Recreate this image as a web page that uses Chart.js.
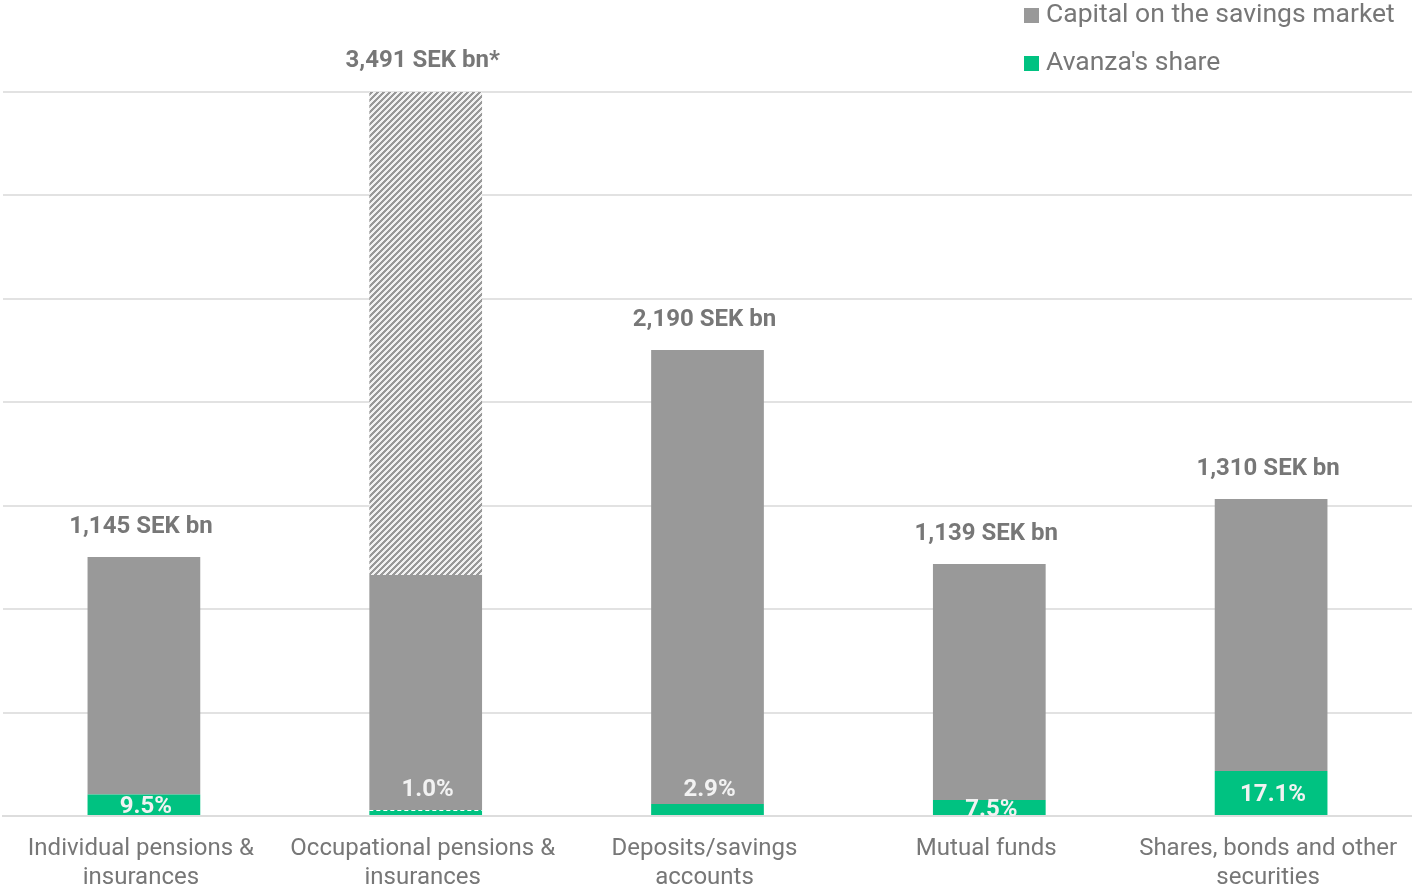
<!DOCTYPE html>
<html>
<head>
<meta charset="utf-8">
<script src="https://cdn.jsdelivr.net/npm/chart.js@4/dist/chart.umd.min.js"></script>
<style>
  html, body { margin: 0; padding: 0; background: #fff; overflow: hidden; }
  #wrap { position: relative; width: 1412px; height: 894px; }
</style>
</head>
<body>
<div id="wrap"><canvas id="savings"></canvas></div>
<script>
// categories and values (SEK bn)
var categories = [
  ["Individual pensions &", "insurances"],
  ["Occupational pensions &", "insurances"],
  ["Deposits/savings", "accounts"],
  ["Mutual funds"],
  ["Shares, bonds and other", "securities"]
];
var avanzaShare = [104, 29, 58, 77, 217];          // green segment
var capitalMarket = [1148, 1136, 2195, 1141, 1315]; // solid grey segment
var capitalHidden = [0, 2340, 0, 0, 0];            // hatched part of the occupational bar
var totalLabels = ["1,145 SEK bn", "3,491 SEK bn*", "2,190 SEK bn", "1,139 SEK bn", "1,310 SEK bn"];
var shareLabels = ["9.5%", "1.0%", "2.9%", "7.5%", "17.1%"];
var yTicks = [0, 500, 1000, 1500, 2000, 2500, 3000, 3500];

var GREY = "#999999", GREEN = "#00c281", TEXT = "#777777";

// diagonal stripe pattern for the hatched part
function makeHatch() {
  var c = document.createElement("canvas");
  c.width = 6; c.height = 6;
  var g = c.getContext("2d");
  var img = g.createImageData(6, 6);
  for (var y = 0; y < 6; y++) {
    for (var x = 0; x < 6; x++) {
      var k = (y * 6 + x) * 4;
      var on = ((x + y) % 6) < 3;
      var v = on ? 0x99 : 0xf2;
      img.data[k] = v; img.data[k + 1] = v; img.data[k + 2] = v; img.data[k + 3] = 255;
    }
  }
  g.putImageData(img, 0, 0);
  return g.createPattern(c, "repeat");
}

var labelPlugin = {
  id: "barLabels",
  afterDatasetsDraw: function (chart) {
    var ctx = chart.ctx, area = chart.chartArea;
    var green = chart.getDatasetMeta(0).data;
    var grey = chart.getDatasetMeta(1).data;
    var hatch = chart.getDatasetMeta(2).data;
    ctx.save();
    ctx.textAlign = "center";
    ctx.textBaseline = "middle";
    for (var i = 0; i < categories.length; i++) {
      var top = capitalHidden[i] > 0 ? hatch[i].y : grey[i].y;
      ctx.font = "bold 24px Roboto";
      ctx.fillStyle = TEXT;
      ctx.fillText(totalLabels[i], grey[i].x - 3, top - 30);

      var g = green[i];
      var h = g.base - g.y;
      // small share: label sits above the green part
      var ty = h >= 14 ? (g.y + g.base) / 2 + 2 : g.base - 25;
      if (capitalHidden[i] > 0) {
        ctx.save();
        ctx.strokeStyle = "#ffffff";
        ctx.lineWidth = 1;
        ctx.setLineDash([4, 3]);
        ctx.beginPath();
        ctx.moveTo(g.x - g.width / 2, Math.round(g.y) + 0.5);
        ctx.lineTo(g.x + g.width / 2, Math.round(g.y) + 0.5);
        ctx.stroke();
        ctx.restore();
      }
      ctx.save();
      ctx.beginPath();
      ctx.rect(area.left, area.top, area.right - area.left, area.bottom - area.top);
      ctx.clip();
      ctx.font = "bold 24px Roboto";
      ctx.fillStyle = "#f2f2f2";
      ctx.fillText(shareLabels[i], g.x + 2, ty);
      ctx.restore();
    }
    ctx.restore();
  },
  afterDraw: function (chart) {
    var ctx = chart.ctx;
    var items = [
      { text: "Capital on the savings market", color: GREY, y: 15 },
      { text: "Avanza's share", color: GREEN, y: 63 }
    ];
    ctx.save();
    ctx.textBaseline = "middle";
    ctx.textAlign = "left";
    ctx.font = "26.5px Roboto";
    items.forEach(function (it) {
      ctx.fillStyle = it.color;
      ctx.fillRect(1024, it.y - 7, 15, 15);
      ctx.fillStyle = TEXT;
      ctx.fillText(it.text, 1046, it.y);
    });
    ctx.restore();
  }
};

var ctx = document.getElementById("savings").getContext("2d");
var chart = new Chart(ctx, {
  type: "bar",
  data: {
    labels: categories,
    datasets: [
      { label: "Avanza's share", data: avanzaShare, backgroundColor: GREEN, borderWidth: 0 },
      { label: "Capital on the savings market", data: capitalMarket, backgroundColor: GREY, borderWidth: 0 },
      { label: "Capital (hatched)", data: capitalHidden, backgroundColor: makeHatch(), borderWidth: 0 }
    ]
  },
  options: {
    responsive: true,
    maintainAspectRatio: false,
    animation: false,
    layout: { padding: { top: 92, left: 3, right: -7, bottom: 0 } },
    datasets: { bar: { barPercentage: 0.8, categoryPercentage: 0.5 } },
    plugins: {
      legend: { display: false },
      tooltip: { enabled: false }
    },
    scales: {
      x: {
        stacked: true,
        afterFit: function (axis) { axis.height = 78; },
        grid: { display: false },
        border: { color: "#dddddd", width: 2 },
        ticks: {
          color: TEXT,
          font: { family: "Roboto", size: 24, lineHeight: 1.2 },
          padding: 11,
          labelOffset: -3,
          maxRotation: 0,
          autoSkip: false
        }
      },
      y: {
        stacked: true,
        min: yTicks[0],
        max: yTicks[yTicks.length - 1],
        afterBuildTicks: function (axis) {
          axis.ticks = yTicks.map(function (v) { return { value: v }; });
        },
        grid: { color: "#e2e2e2", lineWidth: 2, drawTicks: false },
        border: { display: false },
        ticks: { display: false }
      }
    }
  },
  plugins: [labelPlugin]
});
</script>
</body>
</html>
